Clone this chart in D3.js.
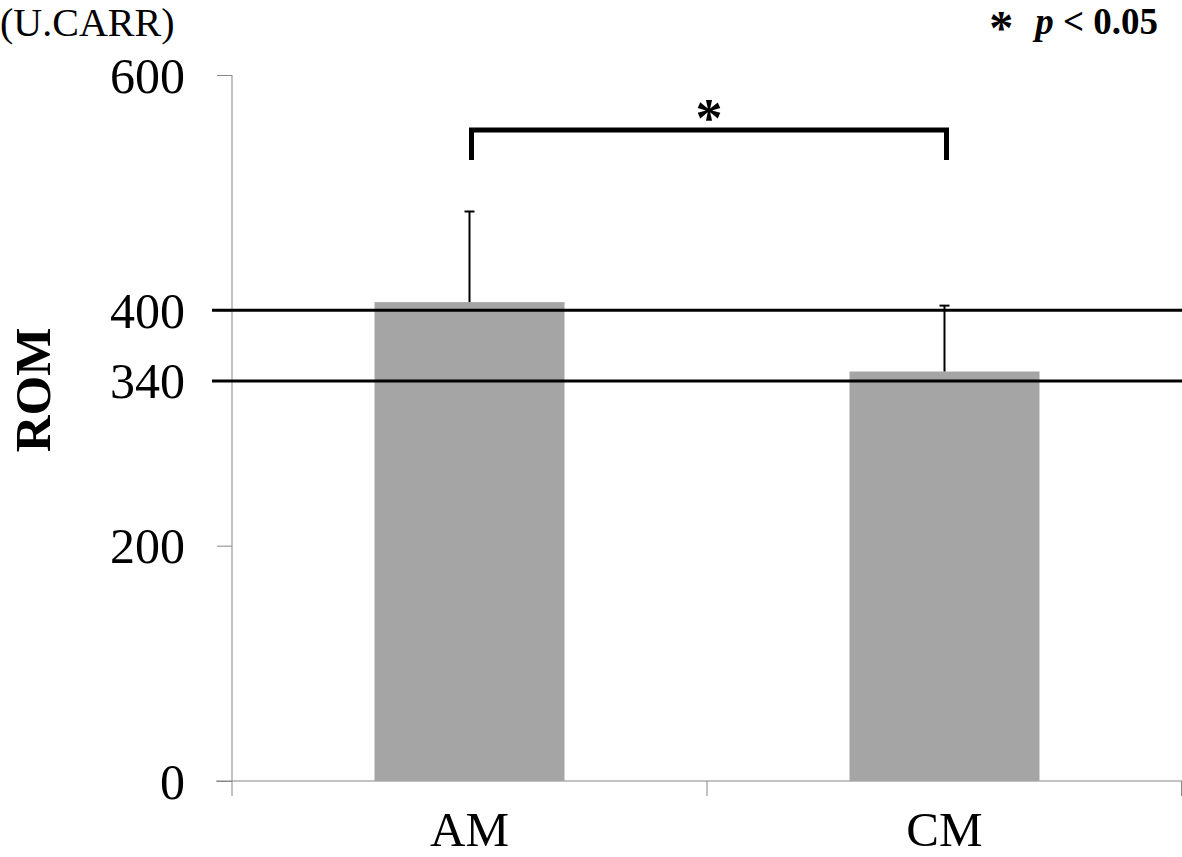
<!DOCTYPE html>
<html>
<head>
<meta charset="utf-8">
<script src="https://cdn.jsdelivr.net/npm/d3@7"></script>
<style>
  body { margin: 0; background: #fff; }
  svg { display: block; font-family: "Liberation Serif", "Times New Roman", serif; }
</style>
</head>
<body>
<div id="chart"></div>
<script>
// Data
var groups = ["AM", "CM"];
var means = [407, 348];
var sds = [77, 56];
var yTicks = [0, 200, 340, 400, 600];
var refLines = [400, 340];

var width = 1182, height = 857;
var serif = "'Liberation Serif', 'Times New Roman', serif";
var svg = d3.select("#chart").append("svg")
  .attr("width", width)
  .attr("height", height);

// Scales
var x = d3.scaleBand()
  .domain(groups)
  .range([232, 1182])
  .paddingInner(0.6)
  .paddingOuter(0.3);

var y = d3.scaleLinear()
  .domain([0, 600])
  .range([781, 75]);

// Y axis (grey line, labels)
var yAxis = svg.append("g")
  .attr("transform", "translate(232,0)")
  .call(d3.axisLeft(y).tickValues(yTicks).tickSize(15).tickPadding(32).tickFormat(d3.format("d")));
yAxis.attr("font-family", serif);
yAxis.select(".domain").attr("stroke", "#868686").attr("d", "M0," + y(600) + "V" + y(0));
yAxis.selectAll(".tick line").attr("stroke", "#868686");
yAxis.selectAll(".tick text")
  .attr("fill", "#000")
  .style("font-size", "50px")
  .attr("dy", "0.34em");

// X axis line + ticks at band edges
var xAxisG = svg.append("g");
xAxisG.append("line")
  .attr("x1", 216).attr("x2", 1182)
  .attr("y1", y(0)).attr("y2", y(0))
  .attr("stroke", "#868686");
var edges = [x.range()[0]].concat(groups.map(function(g) { return x(g) + x.bandwidth() + x.step() * 0.3; }));
xAxisG.selectAll(".xtick")
  .data(edges)
  .enter().append("line")
  .attr("x1", function(d) { return Math.min(d, 1181.5); })
  .attr("x2", function(d) { return Math.min(d, 1181.5); })
  .attr("y1", y(0)).attr("y2", y(0) + 15)
  .attr("stroke", "#868686");
xAxisG.selectAll(".xlabel")
  .data(groups)
  .enter().append("text")
  .attr("x", function(d) { return x(d) + x.bandwidth() / 2; })
  .attr("y", 846)
  .attr("text-anchor", "middle")
  .style("font-size", "49px")
  .text(function(d) { return d; });

// Bars
svg.selectAll(".bar")
  .data(groups)
  .enter().append("rect")
  .attr("x", function(d) { return x(d); })
  .attr("width", x.bandwidth())
  .attr("y", function(d, i) { return y(means[i]); })
  .attr("height", function(d, i) { return y(0) - y(means[i]); })
  .attr("fill", "#a5a5a5");

// Error bars (upper only)
var err = svg.selectAll(".err")
  .data(groups)
  .enter().append("g");
err.append("line")
  .attr("x1", function(d) { return x(d) + x.bandwidth() / 2; })
  .attr("x2", function(d) { return x(d) + x.bandwidth() / 2; })
  .attr("y1", function(d, i) { return y(means[i]); })
  .attr("y2", function(d, i) { return y(means[i] + sds[i]); })
  .attr("stroke", "#000")
  .attr("stroke-width", 2);
err.append("line")
  .attr("x1", function(d) { return x(d) + x.bandwidth() / 2 - 5; })
  .attr("x2", function(d) { return x(d) + x.bandwidth() / 2 + 5; })
  .attr("y1", function(d, i) { return y(means[i] + sds[i]); })
  .attr("y2", function(d, i) { return y(means[i] + sds[i]); })
  .attr("stroke", "#000")
  .attr("stroke-width", 2);

// Reference lines at 400 and 340
svg.selectAll(".ref")
  .data(refLines)
  .enter().append("line")
  .attr("x1", 212).attr("x2", 1182)
  .attr("y1", function(d) { return y(d); })
  .attr("y2", function(d) { return y(d); })
  .attr("stroke", "#000")
  .attr("stroke-width", 3);

// Significance bracket
var cx0 = x("AM") + x.bandwidth() / 2 + 2, cx1 = x("CM") + x.bandwidth() / 2 + 2;
svg.append("path")
  .attr("d", "M" + cx0 + ",160V130H" + cx1 + "V160")
  .attr("fill", "none")
  .attr("stroke", "#000")
  .attr("stroke-width", 5);
svg.append("text")
  .attr("x", (cx0 + cx1) / 2)
  .attr("y", 136)
  .attr("text-anchor", "middle")
  .style("font-size", "54px")
  .style("font-weight", "bold")
  .text("*");

// Unit label
svg.append("text")
  .attr("x", 0)
  .attr("y", 36)
  .style("font-size", "40px")
  .text("(U.CARR)");

// p-value note
var note = svg.append("text")
  .attr("x", 1158)
  .attr("y", 34)
  .attr("text-anchor", "end")
  .style("font-size", "37px")
  .style("font-weight", "bold");
note.append("tspan").style("font-size", "48px").attr("dy", 10).text("*");
note.append("tspan").attr("dy", -10).attr("dx", 22).style("font-style", "italic").text("p");
note.append("tspan").text(" < 0.05");

// Y title
svg.append("text")
  .attr("transform", "translate(50,390) rotate(-90)")
  .attr("text-anchor", "middle")
  .style("font-size", "51px")
  .style("font-weight", "bold")
  .text("ROM");
</script>
</body>
</html>
